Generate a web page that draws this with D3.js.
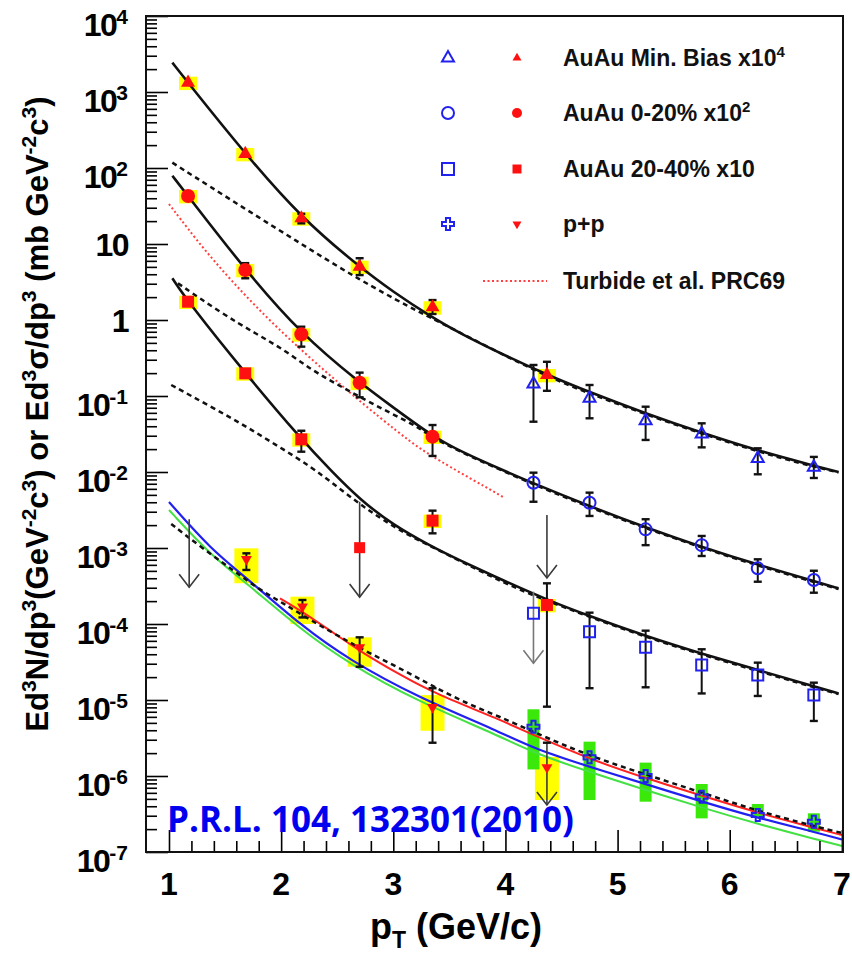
<!DOCTYPE html>
<html>
<head>
<meta charset="utf-8">
<script src="https://cdn.jsdelivr.net/npm/d3@7"></script>
<style>
  body { margin: 0; background: #fff; }
</style>
</head>
<body>
<script>
// ---- data ----

// AuAu Min. Bias x10^4, filled red triangles
var mbPt = [1.17, 1.68, 2.18, 2.70, 3.35, 4.37];
var mbVal = [1325, 153, 21.8, 5.03, 1.47, 0.189];
var mbLo = [null, null, 18.7, 3.9, 1.2, 0.117];
var mbHi = [null, null, 25, 6.5, 1.83, 0.282];
// open blue triangles
var mbOpenPt = [4.25, 4.75, 5.25, 5.75, 6.25, 6.75];
var mbOpenVal = [0.144, 0.0933, 0.0473, 0.0316, 0.0151, 0.01153];
var mbOpenLo = [0.0459, 0.0509, 0.0264, 0.0211, 0.00933, 0.00834];
var mbOpenHi = [0.256, 0.1396, 0.0723, 0.0437, 0.0205, 0.0158];

// AuAu 0-20% x10^2
var c020Pt = [1.17, 1.68, 2.18, 2.70, 3.35];
var c020Val = [42.8, 4.55, 0.648, 0.1496, 0.0292];
var c020Lo = [null, 3.54, 0.446, 0.0962, 0.01625];
var c020Hi = [null, 5.6, 0.816, 0.203, 0.0415];
var c020OpenPt = [4.25, 4.75, 5.25, 5.75, 6.25, 6.75];
var c020OpenVal = [0.00723, 0.00394, 0.00176, 0.00109, 0.00054, 0.000379];
var c020OpenLo = [0.00406, 0.00264, 0.00109, 0.000785, 0.00036, 0.000258];
var c020OpenHi = [0.0098, 0.00535, 0.00239, 0.00144, 0.00071, 0.000502];

// AuAu 20-40% x10
var c2040Pt = [1.17, 1.68, 2.18, 3.35, 4.37];
var c2040Val = [1.74, 0.1987, 0.0269, 0.00229, 0.000178];
var c2040Lo = [null, null, 0.0185, 0.00156, 8.17e-6];
var c2040Hi = [null, null, 0.0349, 0.0031, 0.000343];
var c2040LimPt = [2.70];
var c2040LimVal = [0.00101];
var c2040OpenPt = [4.25, 4.75, 5.25, 5.75, 6.25, 6.75];
var c2040OpenVal = [0.000138, 7.93e-5, 4.93e-5, 2.89e-5, 2.13e-5, 1.16e-5];
var c2040OpenLo = [null, 1.43e-5, 1.47e-5, 1.22e-5, 1.13e-5, 5.3e-6];
var c2040OpenHi = [null, 0.000141, 8.17e-5, 4.65e-5, 3.1e-5, 1.69e-5];

// relative systematic error of the AuAu points (yellow boxes)
var auSys = 0.2;

// p+p, red inverted triangles with yellow boxes
var ppPt = [1.69, 2.19, 2.70, 3.35, 4.37];
var ppVal = [0.00071, 0.000169, 4.93e-5, 8.02e-6, 1.30e-6];
var ppLo = [0.000514, 0.000122, 2.74e-5, 2.74e-6, null];
var ppHi = [0.000851, 0.000207, 6.68e-5, 1.43e-5, 2.74e-6];
var ppSysLo = [0.000344, 0.0001, 2.74e-5, 3.94e-6, 4.83e-7];
var ppSysHi = [0.00099, 0.000229, 6.68e-5, 1.16e-5, 1.78e-6];
// p+p, open blue crosses with green boxes
var ppOpenPt = [4.25, 4.75, 5.25, 5.75, 6.25, 6.75];
var ppOpenVal = [4.45e-6, 1.76e-6, 1.0e-6, 5.35e-7, 3.07e-7, 2.5e-7];
var ppOpenSysLo = [1.22e-6, 4.83e-7, 4.59e-7, 2.77e-7, 2.91e-7, 1.85e-7];
var ppOpenSysHi = [7.55e-6, 2.83e-6, 1.5e-6, 7.85e-7, 4.28e-7, 3.23e-7];

// upper-limit arrows: pT, top of the arrow, tip of the arrow
var limPt = [1.18, 2.70, 4.37, 4.25, 4.37];
var limTop = [0.00239, 0.00406, 0.00272, 0.000266, 2.74e-6];
var limTip = [0.000304, 0.000226, 0.000403, 3.04e-5, 4.15e-7];

// fit curves (black solid) and scaled p+p fits (black dashed)
var mbFitPt = [1.03, 1.17, 1.68, 2.18, 2.70, 3.0, 3.34, 3.6, 4.0, 4.37, 4.75, 5.25, 5.76, 6.25, 6.76, 6.97];
var mbFitVal = [2432, 1325, 153, 22.0, 4.98, 2.34, 1.096, 0.661, 0.339, 0.1905, 0.1122, 0.0589, 0.0324, 0.01905, 0.012, 0.01];
var mbPpPt = [1.03, 1.68, 2.18, 2.70, 3.16, 3.35, 4.0, 4.5, 5.0, 5.5, 6.0, 6.5, 6.97];
var mbPpVal = [117.5, 28.9, 10.0, 3.36, 1.44, 1.047, 0.335, 0.148, 0.0785, 0.0425, 0.0242, 0.0145, 0.00984];

var c020FitPt = [1.03, 1.17, 1.68, 2.18, 2.70, 3.0, 3.34, 3.6, 4.0, 4.25, 4.75, 5.25, 5.76, 6.25, 6.76, 6.97];
var c020FitVal = [79.2, 42.8, 4.55, 0.648, 0.1496, 0.0708, 0.0302, 0.0186, 0.01023, 0.00708, 0.00355, 0.00186, 0.00102, 0.000603, 0.000363, 0.000295];
var c020PpPt = [1.08, 1.47, 1.77, 2.03, 2.27, 2.51, 2.75, 2.98, 3.22, 3.40, 4.0, 4.5, 5.0, 5.5, 6.0, 6.5, 6.97];
var c020PpVal = [3.04, 1.224, 0.668, 0.403, 0.22, 0.1396, 0.0886, 0.0591, 0.0394, 0.025, 0.0099, 0.0048, 0.00248, 0.00135, 0.000762, 0.000455, 0.000288];

var c2040FitPt = [1.03, 1.17, 1.68, 2.18, 2.45, 2.70, 3.0, 3.34, 3.56, 4.0, 4.375, 4.75, 5.25, 5.76, 6.25, 6.76, 6.97];
var c2040FitVal = [3.54, 1.74, 0.199, 0.0269, 0.0102, 0.00437, 0.002, 0.00105, 0.000724, 0.000363, 0.000207, 0.000127, 6.95e-5, 4.03e-5, 2.48e-5, 1.50e-5, 1.22e-5];
var c2040PpPt = [1.02, 1.38, 1.68, 1.97, 2.27, 2.49, 2.70, 2.91, 3.16, 3.46, 4.0, 4.375, 4.75, 5.25, 5.76, 6.25, 6.76, 6.97];
var c2040PpVal = [0.1396, 0.0716, 0.0403, 0.022, 0.01164, 0.00655, 0.00379, 0.00233, 0.0014, 0.000856, 0.000336, 0.000201, 0.000124, 6.74e-5, 3.91e-5, 2.41e-5, 1.45e-5, 1.2e-5];

// Turbide et al. (red dotted)
var turbPt = [1.0, 1.32, 1.68, 2.03, 2.39, 2.72, 3.04, 3.24, 3.46, 3.98];
var turbVal = [33.6, 8.09, 2.07, 0.635, 0.2133, 0.081, 0.0336, 0.0201, 0.01274, 0.00469];

// p+p curves
var ppFitPt = [1.02, 1.28, 1.57, 1.81, 2.02, 2.26, 2.52, 2.79, 3.09, 3.36, 3.65, 3.95, 4.25, 4.75, 5.25, 5.76, 6.25, 6.76, 7.0];
var ppFitVal = [0.00207, 0.00104, 0.000514, 0.00028, 0.000187, 0.000113, 6.81e-5, 4.11e-5, 2.48e-5, 1.5e-5, 9.05e-6, 6.03e-6, 3.79e-6, 1.83e-6, 1.05e-6, 5.98e-7, 3.46e-7, 2.17e-7, 1.78e-7];
var ppRedPt = [1.99, 2.19, 2.43, 2.73, 3.09, 3.36, 3.95, 4.25, 4.75, 5.25, 5.76, 6.25, 6.76, 7.0];
var ppRedVal = [0.000218, 0.000145, 8.34e-5, 4.11e-5, 2.03e-5, 1.24e-5, 5.53e-6, 3.46e-6, 1.67e-6, 9.33e-7, 5.46e-7, 3.26e-7, 2.07e-7, 1.67e-7];
var ppTheoPt = [1.0, 1.38, 1.68, 2.19, 2.61, 3.21, 3.95, 4.25, 4.75, 5.25, 5.76, 6.25, 6.76, 7.0];
var ppBlueVal = [0.00403, 0.000942, 0.000419, 9.2e-5, 3.36e-5, 1.1e-5, 3.83e-6, 2.31e-6, 1.32e-6, 7.85e-7, 4.55e-7, 2.8e-7, 1.83e-7, 1.46e-7];
var ppGreenVal = [0.00316, 0.000785, 0.000357, 8.09e-5, 2.98e-5, 9.7e-6, 3.36e-6, 2.01e-6, 1.13e-6, 6.55e-7, 3.79e-7, 2.34e-7, 1.48e-7, 1.2e-7];

// axis / legend text
var xTickLabels = [1, 2, 3, 4, 5, 6, 7];
var yTickExp = [4, 3, 2, 1, 0, -1, -2, -3, -4, -5, -6, -7];
var legendLabels = ["AuAu Min. Bias x10", "AuAu 0-20% x10", "AuAu 20-40% x10", "p+p", "Turbide et al. PRC69"];
var legendSup = ["4", "2", "", "", ""];

// ---- drawing ----
var width = 852, height = 959;
var red = "#ff1010", blue = "#2222ee", yellow = "#ffff00", green = "#3ae80a";

var svg = d3.select("body").append("svg")
    .attr("width", width)
    .attr("height", height)
    .style("font-family", "Arial, 'Liberation Sans', Helvetica, sans-serif");

var x = d3.scaleLinear().domain([0.795, 7.01]).range([146, 843]);
var y = d3.scaleLog().domain([1e-7, 1e4]).range([852, 16]);

function zip(a, b) { return a.map(function(d, i) { return [d, b[i]]; }); }

// marker shapes
function triUp(s) { return "M0," + (-s * 0.58) + "L" + (s / 2) + "," + (s * 0.29) + "L" + (-s / 2) + "," + (s * 0.29) + "Z"; }
function triDown(s) { return "M0," + (s * 0.58) + "L" + (s / 2) + "," + (-s * 0.29) + "L" + (-s / 2) + "," + (-s * 0.29) + "Z"; }
function square(s) { var h = s / 2; return "M" + (-h) + "," + (-h) + "H" + h + "V" + h + "H" + (-h) + "Z"; }
function circle(s) { return d3.arc()({innerRadius: 0, outerRadius: s / 2, startAngle: 0, endAngle: 2 * Math.PI}); }
function cross(s) {
    var a = s * 0.17, h = s / 2;
    return "M" + (-a) + "," + (-h) + "H" + a + "V" + (-a) + "H" + h + "V" + a + "H" + a + "V" + h +
        "H" + (-a) + "V" + a + "H" + (-h) + "V" + (-a) + "H" + (-a) + "Z";
}

// ---- systematic boxes ----
var boxes = svg.append("g");
function auBoxes(pts, vals) {
    pts.forEach(function(p, i) {
        var top = y(vals[i] * (1 + auSys)), bot = y(vals[i] * (1 - auSys));
        boxes.append("rect").attr("x", x(p) - 9).attr("y", top)
            .attr("width", 18).attr("height", bot - top).attr("fill", yellow);
    });
}
auBoxes(mbPt, mbVal);
auBoxes(c020Pt, c020Val);
auBoxes(c2040Pt, c2040Val);
ppPt.forEach(function(p, i) {
    boxes.append("rect").attr("x", x(p) - 12).attr("y", y(ppSysHi[i]))
        .attr("width", 24).attr("height", y(ppSysLo[i]) - y(ppSysHi[i])).attr("fill", yellow);
});
ppOpenPt.forEach(function(p, i) {
    boxes.append("rect").attr("x", x(p) - 6).attr("y", y(ppOpenSysHi[i]))
        .attr("width", 12).attr("height", y(ppOpenSysLo[i]) - y(ppOpenSysHi[i])).attr("fill", green);
});

// ---- curves ----
var line = d3.line()
    .x(function(d) { return x(d[0]); })
    .y(function(d) { return y(d[1]); })
    .curve(d3.curveBasis);

var curves = svg.append("g").attr("fill", "none");
function curve(pts, vals, color, w, dash) {
    curves.append("path").attr("d", line(zip(pts, vals)))
        .attr("stroke", color).attr("stroke-width", w)
        .attr("stroke-dasharray", dash || null);
}
curve(ppTheoPt, ppGreenVal, "#44e044", 2);
curve(ppTheoPt, ppBlueVal, "#2020f0", 2.2);
curve(ppRedPt, ppRedVal, "#ff2020", 2);
curve(turbPt, turbVal, "#ff4040", 2, "2,2.5");
curve(mbPpPt, mbPpVal, "#111", 2.5, "5,4");
curve(c020PpPt, c020PpVal, "#111", 2.5, "5,4");
curve(c2040PpPt, c2040PpVal, "#111", 2.5, "5,4");
curve(ppFitPt, ppFitVal, "#111", 2.5, "5,4");
curve(mbFitPt, mbFitVal, "#111", 2.6);
curve(c020FitPt, c020FitVal, "#111", 2.6);
curve(c2040FitPt, c2040FitVal, "#111", 2.6);

// ---- upper-limit arrows ----
var arrows = svg.append("g").attr("fill", "none").attr("stroke-width", 1.6);
limPt.forEach(function(p, i) {
    var cx = x(p), y0 = y(limTop[i]), y1 = y(limTip[i]);
    var col = i === 3 ? "#777" : "#3a3a3a";
    arrows.append("line").attr("x1", cx).attr("x2", cx).attr("y1", y0).attr("y2", y1).attr("stroke", col);
    arrows.append("path").attr("d", "M" + (cx - 10) + "," + (y1 - 13) + "L" + cx + "," + y1 + "L" + (cx + 10) + "," + (y1 - 13))
        .attr("stroke", col);
});

// ---- error bars ----
var errs = svg.append("g").attr("stroke", "#111").attr("stroke-width", 2);
function errorBars(pts, lo, hi) {
    pts.forEach(function(p, i) {
        var cx = x(p);
        if (hi[i] == null && lo[i] == null) return;
        var yh = hi[i] != null ? y(hi[i]) : null;
        var yl = lo[i] != null ? y(lo[i]) : null;
        errs.append("line").attr("x1", cx).attr("x2", cx)
            .attr("y1", yh != null ? yh : yl).attr("y2", yl != null ? yl : yh);
        [yh, yl].forEach(function(v) {
            if (v == null) return;
            errs.append("line").attr("x1", cx - 4).attr("x2", cx + 4).attr("y1", v).attr("y2", v).attr("stroke-width", 2.4);
        });
    });
}
errorBars(mbPt, mbLo, mbHi);
errorBars(mbOpenPt, mbOpenLo, mbOpenHi);
errorBars(c020Pt, c020Lo, c020Hi);
errorBars(c020OpenPt, c020OpenLo, c020OpenHi);
errorBars(c2040Pt, c2040Lo, c2040Hi);
errorBars(c2040OpenPt, c2040OpenLo, c2040OpenHi);
errorBars(ppPt, ppLo, ppHi);

// ---- markers ----
var marks = svg.append("g");
function markers(pts, vals, shape, size, filled) {
    pts.forEach(function(p, i) {
        marks.append("path").attr("d", shape(size))
            .attr("transform", "translate(" + x(p) + "," + y(vals[i]) + ")")
            .attr("fill", filled ? red : "none")
            .attr("stroke", filled ? "none" : blue)
            .attr("stroke-width", 2);
    });
}
markers(mbPt, mbVal, triUp, 14, true);
markers(c020Pt, c020Val, circle, 14, true);
markers(c2040Pt, c2040Val, square, 12, true);
markers(c2040LimPt, c2040LimVal, square, 11, true);
markers(ppPt, ppVal, triDown, 11, true);
markers(mbOpenPt, mbOpenVal, triUp, 12, false);
markers(c020OpenPt, c020OpenVal, circle, 12, false);
markers(c2040OpenPt, c2040OpenVal, square, 11, false);
markers(ppOpenPt, ppOpenVal, cross, 12, false);

// ---- axes ----
var majorY = yTickExp.map(function(e) { return Math.pow(10, e); });
var minorY = [];
for (var e = -7; e < 4; e++) for (var k = 2; k < 10; k++) minorY.push(k * Math.pow(10, e));
var minorX = d3.range(6, 35).filter(function(i) { return i % 5 !== 0; }).map(function(i) { return i / 5; });

function tickAxis(axis, tr) {
    svg.append("g").attr("transform", tr).call(axis)
        .call(function(g) { g.select(".domain").remove(); g.selectAll("line").attr("stroke-width", 1.6); });
}
tickAxis(d3.axisLeft(y).tickValues(minorY).tickSize(-11).tickFormat(""), "translate(146,0)");
tickAxis(d3.axisLeft(y).tickValues(majorY).tickSize(-22).tickFormat(""), "translate(146,0)");
tickAxis(d3.axisBottom(x).tickValues(minorX).tickSize(-11).tickFormat(""), "translate(0,852)");
tickAxis(d3.axisBottom(x).tickValues(xTickLabels).tickSize(-22).tickFormat(""), "translate(0,852)");

svg.append("rect").attr("x", 146).attr("y", 16).attr("width", 697).attr("height", 836)
    .attr("fill", "none").attr("stroke", "#111").attr("stroke-width", 2);

// y tick labels
yTickExp.forEach(function(e) {
    var hasSup = e > 1 || e < 0;
    var t = svg.append("text").attr("x", 128).attr("y", y(Math.pow(10, e)) + (hasSup ? 20 : 12))
        .attr("text-anchor", "end").attr("font-size", 32).attr("font-weight", "bold")
        .attr("letter-spacing", "-1.5");
    if (e === 0) t.text("1");
    else if (e === 1) t.text("10");
    else {
        t.append("tspan").text("10");
        t.append("tspan").attr("dy", -12).attr("font-size", 21).attr("letter-spacing", "0").text(e);
    }
});

// x tick labels
svg.append("g").selectAll("text").data(xTickLabels).enter().append("text")
    .attr("x", function(d) { return x(d); }).attr("y", 895)
    .attr("text-anchor", "middle").attr("font-size", 32).attr("font-weight", "bold")
    .text(function(d) { return d; });

// x title
var xt = svg.append("text").attr("x", 456).attr("y", 939).attr("text-anchor", "middle")
    .attr("font-size", 36).attr("font-weight", "bold");
xt.append("tspan").text("p");
xt.append("tspan").attr("dy", 9).attr("font-size", 23).text("T");
xt.append("tspan").attr("dy", -9).text(" (GeV/c)");

// y title
var yt = svg.append("text").attr("transform", "translate(48,414) rotate(-90)")
    .attr("text-anchor", "middle").attr("font-size", 31).attr("font-weight", "bold");
var yParts = [["Ed", 0], ["3", 1], ["N/dp", 0], ["3", 1], ["(GeV", 0], ["-2", 1], ["c", 0], ["3", 1],
    [") or Ed", 0], ["3", 1], ["\u03c3/dp", 0], ["3", 1], [" (mb GeV", 0], ["-2", 1], ["c", 0], ["3", 1], [")", 0]];
var prevSup = 0;
yParts.forEach(function(d) {
    var ts = yt.append("tspan").text(d[0]);
    if (d[1] && !prevSup) ts.attr("dy", -12).attr("font-size", 21);
    else if (d[1]) ts.attr("font-size", 21);
    else if (prevSup) ts.attr("dy", 12);
    prevSup = d[1];
});

// ---- legend ----
var legRows = [58, 113, 169, 224, 281];
var legShapes = [triUp, circle, square, null];
var openShapes = [triUp, circle, square, cross];
legendLabels.forEach(function(lab, i) {
    var ly = legRows[i];
    if (i < 4) {
        svg.append("path").attr("d", openShapes[i](12)).attr("transform", "translate(448," + ly + ")")
            .attr("fill", "none").attr("stroke", blue).attr("stroke-width", 2);
        var redShape = i === 3 ? triDown : legShapes[i];
        svg.append("path").attr("d", redShape(i === 1 ? 10 : 9)).attr("transform", "translate(517," + ly + ")")
            .attr("fill", red);
    } else {
        svg.append("line").attr("x1", 483).attr("x2", 547).attr("y1", ly).attr("y2", ly)
            .attr("stroke", "#ff4040").attr("stroke-width", 2).attr("stroke-dasharray", "2,2.5");
    }
    var t = svg.append("text").attr("x", 563).attr("y", ly + 8)
        .attr("font-size", 23).attr("font-weight", "bold").attr("fill", "#111");
    t.append("tspan").text(lab);
    if (legendSup[i]) t.append("tspan").attr("dy", -9).attr("font-size", 15).text(legendSup[i]);
});

// reference
svg.append("text").attr("x", 167).attr("y", 832)
    .attr("font-family", "'Open Sans', 'Noto Sans', sans-serif")
    .attr("font-size", 35).attr("font-weight", "bold").attr("fill", "#0000ee")
    .text("P.R.L. 104, 132301(2010)");
</script>
</body>
</html>
